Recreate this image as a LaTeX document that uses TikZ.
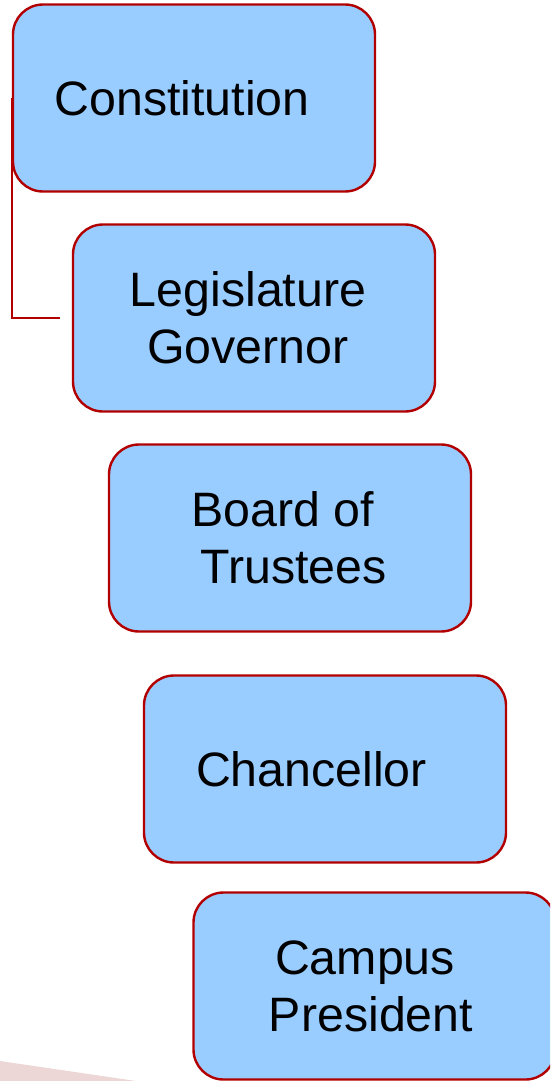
\documentclass[tikz,border=0pt]{standalone}
\usepackage{fontspec}
\setmainfont{Liberation Sans}

\definecolor{boxfill}{RGB}{153,204,255}
\definecolor{boxline}{RGB}{178,0,0}
\definecolor{wedge}{RGB}{237,214,214}

\begin{document}
\begin{tikzpicture}[x=1pt,y=-1pt]

      \useasboundingbox (0,0) rectangle (550,1081);
      \clip (0,0) rectangle (550,1081);

      % faint band in the lower left corner
      \fill[wedge] (0,1061) -- (136,1081) -- (0,1081) -- cycle;

      \begin{scope}[every node/.style={draw=boxline,fill=boxfill,line width=2.4pt,
          rounded corners=30pt,minimum width=362pt,minimum height=187pt,
          inner sep=0pt,align=center,font=\fontsize{48.3}{57}\selectfont}]
        \node (const)  at (194,98)    {Constitution\hspace*{24pt}};
        \node (legis)  at (254,318)   {Legislature\hspace*{12pt}\\Governor\hspace*{12pt}};
        \node (board)  at (290,538)   {Board of\hspace*{15pt}\\\hspace*{22pt}Trustees\hspace*{15pt}};
        \node (chanc)  at (325,769)   {Chancellor\hspace*{27pt}};
        \node (pres)   at (374.5,986) {Campus\hspace*{19pt}\\President\hspace*{7pt}};
      \end{scope}

      \coordinate (legisend) at ([xshift=-12pt]legis.west);
      \draw[boxline,line width=2.4pt] (const.west) |- (legisend);

    \end{tikzpicture}
\end{document}
